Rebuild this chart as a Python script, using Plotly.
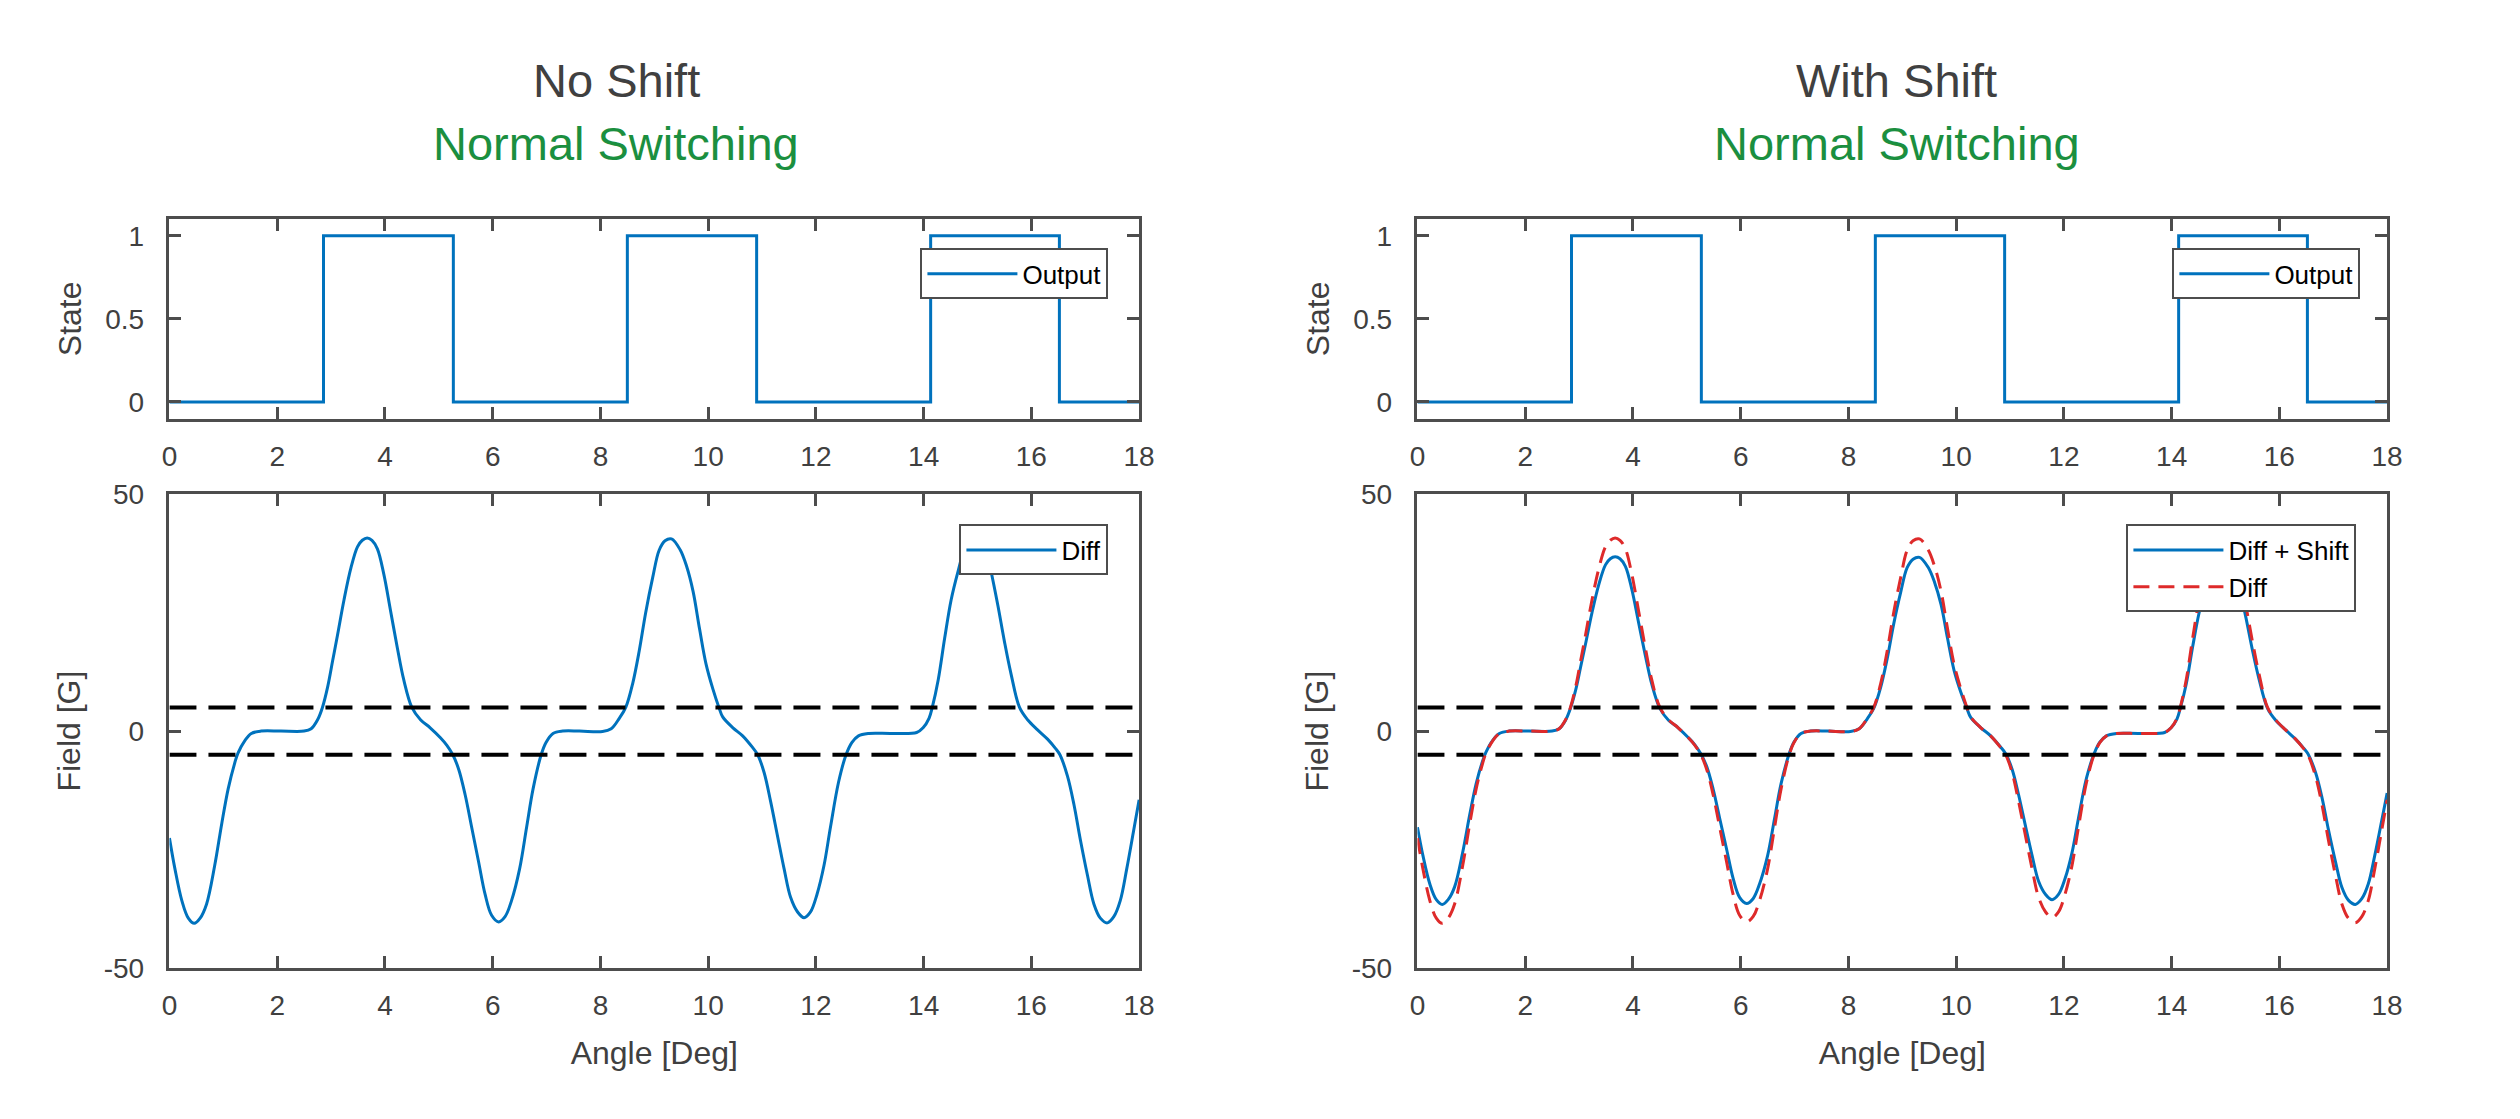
import plotly.graph_objects as go

# switching output (step edges)
state_x = [0, 2.86, 5.27, 8.5, 10.9, 14.13, 16.52, 18]
state_y = [0, 1, 0, 1, 0, 1, 0, 0]

# differential field
angle = [
    0.00, 0.10, 0.23, 0.35, 0.46, 0.57, 0.69, 0.84, 0.97, 1.09, 1.21, 1.27, 1.40, 1.52,
    1.70, 2.07, 2.50, 2.63, 2.75, 2.84, 2.94, 3.03, 3.12, 3.24, 3.37, 3.49, 3.58, 3.67,
    3.76, 3.86, 3.98, 4.10, 4.23, 4.35, 4.50, 4.66, 4.84, 5.03, 5.15, 5.26, 5.37, 5.49,
    5.61, 5.74, 5.86, 5.98, 6.11, 6.23, 6.35, 6.50, 6.63, 6.75, 6.90, 6.99, 7.12, 7.30,
    7.61, 8.04, 8.20, 8.35, 8.47, 8.60, 8.72, 8.84, 8.97, 9.09, 9.20, 9.32, 9.48, 9.60,
    9.72, 9.84, 9.96, 10.09, 10.20, 10.27, 10.46, 10.64, 10.82, 10.92, 11.04, 11.16,
    11.29, 11.41, 11.53, 11.66, 11.78, 11.90, 12.02, 12.15, 12.27, 12.42, 12.56, 12.67,
    12.79, 12.98, 13.41, 13.87, 13.99, 14.10, 14.16, 14.27, 14.39, 14.51, 14.64, 14.76,
    14.87, 14.97, 15.07, 15.16, 15.25, 15.38, 15.50, 15.62, 15.78, 15.93, 16.11, 16.30,
    16.45, 16.53, 16.67, 16.79, 16.91, 17.04, 17.16, 17.28, 17.41, 17.53, 17.65, 17.77,
    17.90, 18.00,
]
diff = [
    -22.6, -29.0, -35.8, -39.5, -40.6, -39.5, -36.5, -28.4, -19.6, -12.2, -6.8, -4.7, -2.0, -0.5,
    0.0, 0.0, 0.0, 0.5, 2.4, 5.0, 9.5, 14.9, 20.3, 27.7, 34.5, 38.9, 40.3, 40.8,
    40.3, 38.5, 33.1, 25.7, 17.6, 10.8, 5.0, 2.4, 0.7, -1.4, -3.0, -5.0, -8.1, -13.5,
    -20.3, -27.7, -34.5, -38.9, -40.3, -39.2, -35.8, -29.1, -20.3, -12.2, -5.0, -2.4, -0.5, 0.0,
    0.0, -0.1, 0.5, 2.7, 5.0, 10.1, 16.9, 25.0, 32.4, 38.2, 40.2, 40.6, 38.3, 34.8,
    29.5, 21.6, 14.2, 8.8, 5.0, 3.0, 0.7, -1.0, -3.4, -5.0, -8.8, -14.9,
    -22.3, -29.1, -35.1, -38.2, -39.4, -38.2, -34.5, -28.4, -20.3, -10.8, -5.0, -2.4,
    -1.0, -0.5, -0.5, -0.3, 0.7, 2.7, 5.0, 10.8, 19.6, 27.7, 33.8, 38.5,
    40.3, 40.6, 40.2, 38.3, 33.8, 26.4, 18.9, 12.2, 5.0, 2.4, 0.3, -1.7,
    -3.7, -5.0, -9.5, -15.5, -23.0, -30.4, -36.5, -39.5, -40.5, -39.2, -35.8, -29.1,
    -20.9, -14.5,
]
diff_shift = [
    -20.3, -26.2, -32.3, -35.6, -36.6, -35.6, -32.9, -25.6, -17.7, -11.1, -6.3, -4.5, -1.9, -0.5,
    0.0, 0.0, 0.0, 0.5, 2.3, 4.8, 8.8, 13.6, 18.4, 25.0, 31.1, 35.1, 36.4, 36.8,
    36.4, 34.8, 29.9, 23.2, 16.0, 9.9, 4.8, 2.3, 0.7, -1.4, -2.9, -4.8, -7.5, -12.3,
    -18.4, -25.0, -31.1, -35.1, -36.4, -35.4, -32.3, -26.3, -18.4, -11.1, -4.8, -2.3, -0.5, 0.0,
    0.0, -0.1, 0.5, 2.6, 4.8, 9.3, 15.3, 22.6, 29.3, 34.5, 36.3, 36.7, 34.6, 31.4,
    26.7, 19.6, 12.9, 8.1, 4.8, 2.9, 0.7, -1.0, -3.3, -4.8, -8.1, -13.5,
    -20.2, -26.3, -31.7, -34.5, -35.6, -34.5, -31.2, -25.7, -18.4, -9.9, -4.8, -2.3,
    -1.0, -0.5, -0.5, -0.3, 0.7, 2.6, 4.8, 9.9, 17.8, 25.0, 30.6, 34.8,
    36.4, 36.7, 36.3, 34.6, 30.6, 23.9, 17.1, 11.1, 4.8, 2.3, 0.3, -1.7,
    -3.6, -4.8, -8.7, -14.0, -20.8, -27.5, -33.0, -35.7, -36.6, -35.4, -32.3, -26.3,
    -18.9, -13.1,
]

# switching thresholds
threshold_x = [0, 18]
threshold = 5

x_ticks = [0, 2, 4, 6, 8, 10, 12, 14, 16, 18]
state_ticks = [0, 0.5, 1]
state_labels = ["0", "0.5", "1"]
field_ticks = [-50, 0, 50]
field_labels = ["-50", "0", "50"]

BLUE = "#0072BD"
RED = "#DE2A2A"
AXIS = "#4d4d4d"
TEXT = "#404040"
GREEN = "#1B8F3F"
FONT = "Liberation Sans, Arial, sans-serif"

W, H = 2520, 1119

fig = go.Figure()

panels = [
    # state axes, field axes, legends, shifted?
    ("x", "y", "x2", "y2", "legend", "legend2", False),
    ("x3", "y3", "x4", "y4", "legend3", "legend4", True),
]

for sx, sy, fx, fy, leg_s, leg_f, shifted in panels:
    fig.add_trace(go.Scatter(
        x=state_x, y=state_y, mode="lines", name="Output", line_shape="hv",
        line={"color": BLUE, "width": 3}, xaxis=sx, yaxis=sy, legend=leg_s,
    ))
    if shifted:
        fig.add_trace(go.Scatter(
            x=angle, y=diff_shift, mode="lines", name="Diff + Shift", line_shape="spline",
            line={"color": BLUE, "width": 3}, xaxis=fx, yaxis=fy, legend=leg_f,
        ))
        fig.add_trace(go.Scatter(
            x=angle, y=diff, mode="lines", name="Diff", line_shape="spline",
            line={"color": RED, "width": 3, "dash": "16px,9px"}, xaxis=fx, yaxis=fy, legend=leg_f,
        ))
    else:
        fig.add_trace(go.Scatter(
            x=angle, y=diff, mode="lines", name="Diff", line_shape="spline",
            line={"color": BLUE, "width": 3}, xaxis=fx, yaxis=fy, legend=leg_f,
        ))
    for level in (threshold, -threshold):
        fig.add_trace(go.Scatter(
            x=threshold_x, y=[level, level], mode="lines", showlegend=False,
            line={"color": "black", "width": 4, "dash": "27px,12px"}, xaxis=fx, yaxis=fy,
        ))

# axes placement in pixels of the 2520x1119 page
left_x = [163 / W, 1142 / W]
right_x = [1423 / W, 2402 / W]
top_y = [1 - 415 / H, 1 - 210 / H]
bottom_y = [1 - 980 / H, 1 - 493 / H]

label_font = {"size": 32, "color": TEXT, "family": FONT}

common = dict(
    showline=True, linewidth=2.5, linecolor=AXIS, mirror="ticks",
    ticks="inside", ticklen=12, tickwidth=2.5, tickcolor=AXIS,
    showgrid=False, zeroline=False,
    tickfont={"size": 28, "color": TEXT, "family": FONT},
)
xcommon = dict(common, range=[0, 18], tickvals=x_ticks, ticklabelstandoff=11)
ycommon = dict(common, ticklabelstandoff=17)
state_axis = dict(ycommon, range=[-0.1, 1.1], tickvals=state_ticks, ticktext=state_labels,
                  title={"text": "State", "font": label_font, "standoff": 14})
field_axis = dict(ycommon, range=[-50, 50], tickvals=field_ticks, ticktext=field_labels,
                  title={"text": "Field [G]", "font": label_font, "standoff": 14})
angle_title = {"text": "Angle [Deg]", "font": label_font, "standoff": 22}

fig.update_layout(
    xaxis=dict(xcommon, domain=left_x, anchor="y"),
    yaxis=dict(state_axis, domain=top_y, anchor="x"),
    xaxis2=dict(xcommon, domain=left_x, anchor="y2", title=angle_title),
    yaxis2=dict(field_axis, domain=bottom_y, anchor="x2"),
    xaxis3=dict(xcommon, domain=right_x, anchor="y3"),
    yaxis3=dict(state_axis, domain=top_y, anchor="x3"),
    xaxis4=dict(xcommon, domain=right_x, anchor="y4", title=angle_title),
    yaxis4=dict(field_axis, domain=bottom_y, anchor="x4"),
)

legend_style = dict(
    xanchor="right", yanchor="top", bgcolor="white",
    bordercolor=AXIS, borderwidth=2, itemwidth=90,
    font={"size": 26, "color": "black", "family": FONT},
)
fig.update_layout(
    legend=dict(legend_style, x=1111 / W, y=1 - 240 / H),
    legend2=dict(legend_style, x=1111 / W, y=1 - 524 / H),
    legend3=dict(legend_style, x=2375 / W, y=1 - 240 / H),
    legend4=dict(legend_style, x=2371 / W, y=1 - 524 / H),
)

# two-line panel titles
annotations = []
for cx, title in [(614, "No Shift"), (1907, "With Shift")]:
    annotations.append(dict(x=cx / W, y=1 - 67 / H, text=title,
                            font={"size": 47, "color": TEXT, "family": FONT}))
    annotations.append(dict(x=cx / W, y=1 - 132 / H, text="Normal Switching",
                            font={"size": 47, "color": GREEN, "family": FONT}))

fig.update_layout(
    annotations=[
        dict(a, xref="paper", yref="paper", xanchor="center", yanchor="middle", showarrow=False)
        for a in annotations
    ],
    width=W, height=H,
    margin={"l": 0, "r": 0, "t": 0, "b": 0},
    paper_bgcolor="white", plot_bgcolor="white",
    font={"family": FONT, "color": TEXT},
)

# drop the browser's default body margin so the figure sits at the page corner
fig.write_html(
    "out.html",
    config={"displayModeBar": False},
    post_script="document.body.style.margin = '0px';",
)
